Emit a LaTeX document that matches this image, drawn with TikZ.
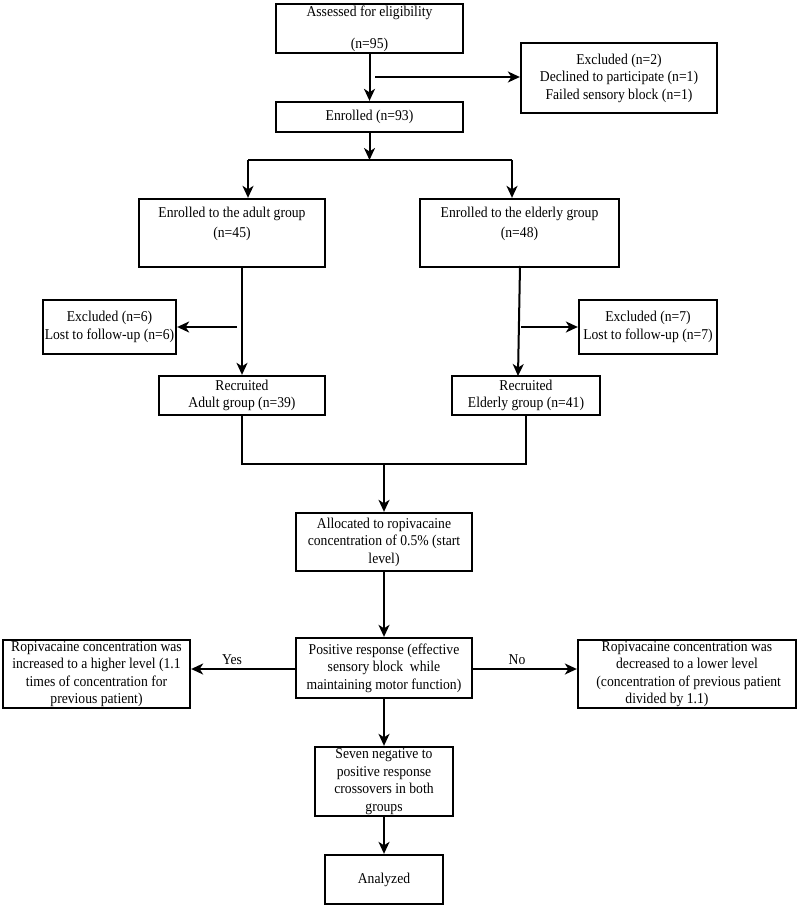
\documentclass[tikz,border=0pt]{standalone}
\usepackage{fontspec}
\setmainfont{Liberation Serif}[FakeStretch=0.91]
\usetikzlibrary{arrows.meta,calc}
\begin{document}
\begin{tikzpicture}[x=1pt,y=-1pt,
  box/.style={draw, line width=2.3pt, inner sep=0pt, align=center,
    font=\fontsize{15pt}{17.5pt}\selectfont},
  conn/.style={line width=2pt},
  arr/.style={line width=2pt, -{Stealth[length=12pt,width=11pt,inset=3.5pt]}},
  lbl/.style={inner sep=0pt, font=\fontsize{15pt}{17.5pt}\selectfont}]
\fill[white] (0,0) rectangle (800,909);
\useasboundingbox (0,0) rectangle (800,909);

\node[box, minimum width=187pt, minimum height=49pt] (assess) at (369.5,28.5)
  {Assessed for eligibility\\[14.5pt](n=95)};
\node[box, minimum width=196pt, minimum height=70pt] (excl1) at (619,78)
  {Excluded (n=2)\\Declined to participate (n=1)\\Failed sensory block (n=1)};
\node[box, minimum width=187pt, minimum height=30pt] (enrol) at (369.5,117)
  {Enrolled (n=93)};
\node[box, minimum width=186pt, minimum height=68pt] (adult) at (232,233)
  {Enrolled to the adult group\\[2.5pt](n=45)\\[3.8pt]\mbox{}};
\node[box, minimum width=199pt, minimum height=68pt] (elder) at (519.5,233)
  {Enrolled to the elderly group\\[2.5pt](n=48)\\[3.8pt]\mbox{}};
\node[box, minimum width=133pt, minimum height=54pt] (excl6) at (109.5,327)
  {Excluded (n=6)\\Lost to follow-up (n=6)};
\node[box, minimum width=138pt, minimum height=54pt] (excl7) at (648,327)
  {Excluded (n=7)\\Lost to follow-up (n=7)};
\node[box, minimum width=166pt, minimum height=39pt] (radult) at (242,395.5)
  {Recruited\\Adult group (n=39)};
\node[box, minimum width=148pt, minimum height=39pt] (relder) at (526,395.5)
  {Recruited\\Elderly group (n=41)};
\node[box, minimum width=176pt, minimum height=58pt] (alloc) at (384,542)
  {Allocated to ropivacaine\\concentration of 0.5\% (start\\level)};
\node[box, minimum width=176pt, minimum height=60pt] (pos) at (384,668)
  {Positive response (effective\\sensory block\ \ while\\maintaining motor function)};
\node[box, minimum width=187pt, minimum height=68pt] (yesbox) at (96.5,674)
  {Ropivacaine concentration was\\increased to a higher level (1.1\\times of concentration for\\previous patient)};
\node[box, minimum width=218pt, minimum height=68pt] (nobox) at (687,674)
  {Ropivacaine concentration was\\decreased to a lower level\\\ (concentration of previous patient\\divided by 1.1)\rule{40pt}{0pt}};
\node[box, minimum width=138pt, minimum height=69pt] (seven) at (384,781.5)
  {Seven negative to\\positive response\\crossovers in both\\groups};
\node[box, minimum width=118pt, minimum height=49pt] (analyzed) at (384,879.5)
  {Analyzed};

\node[lbl] (yes) at (232,660) {Yes};
\node[lbl] (no) at (517,660) {No};

\coordinate (b1) at (375,77);
\coordinate (split) at (369.5,160);
\coordinate (sl) at (248,160);
\coordinate (sr) at (512,160);
\coordinate (a6) at (237,327);
\coordinate (e7) at (521,327);
\coordinate (et) at (520,266);
\coordinate (ev) at (518,376);
\coordinate (m) at (384,463);

\draw[arr] (assess.south) -- (enrol.north);
\draw[arr] (b1) -- (b1 -| excl1.west);
\draw[arr] (enrol.south) -- (split);
\draw[conn] (sl) -- (sr);
\draw[arr] (sl) -- (sl |- adult.north);
\draw[arr] (sr) -- (sr |- elder.north);
\draw[arr] (radult.north |- adult.south) -- (radult.north);
\draw[arr] (a6) -- (a6 -| excl6.east);
\draw[arr] (et) -- (ev);
\draw[arr] (e7) -- (e7 -| excl7.west);
\draw[conn] (radult.south) -- ++(0,48) -| (relder.south);
\draw[arr] (m) -- (alloc.north);
\draw[arr] (alloc.south) -- (pos.north);
\draw[arr] ($(pos.west)+(0,1)$) -- ($(pos.west -| yesbox.east)+(0,1)$);
\draw[arr] ($(pos.east)+(0,1)$) -- ($(pos.east -| nobox.west)+(0,1)$);
\draw[arr] (pos.south) -- (seven.north);
\draw[arr] (seven.south) -- (analyzed.north);
\end{tikzpicture}
\end{document}
